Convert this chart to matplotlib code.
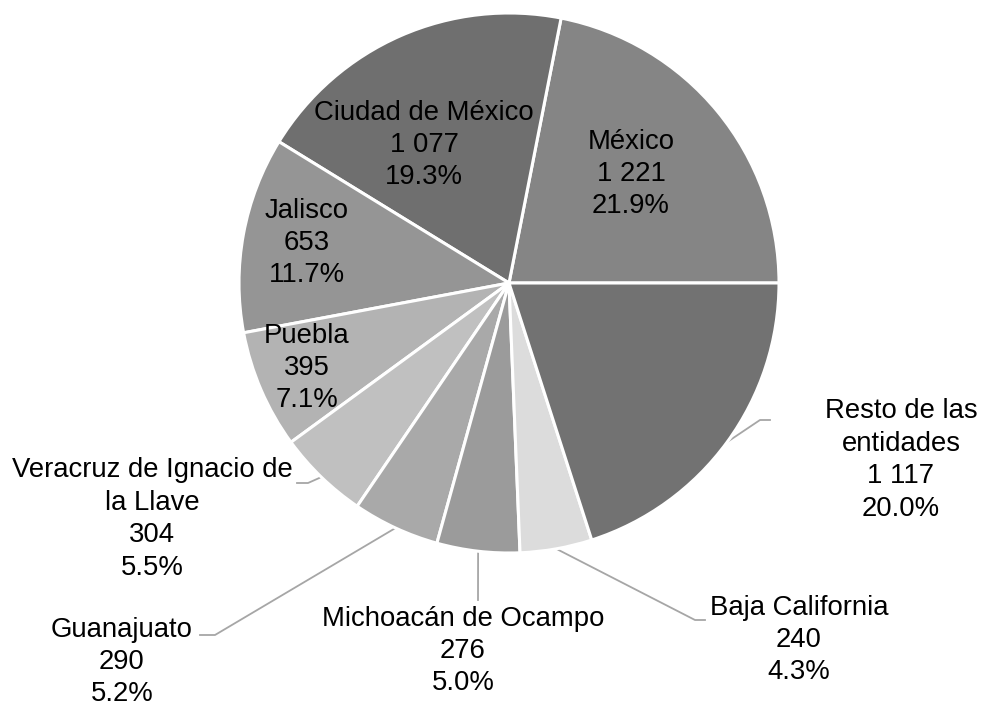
import numpy as np
import matplotlib
matplotlib.use("Agg")
import matplotlib.pyplot as plt

plt.rcParams['font.family'] = ['Liberation Sans', 'DejaVu Sans']

# data
states = ["México", "Ciudad de México", "Jalisco", "Puebla",
          "Veracruz de Ignacio de\nla Llave", "Guanajuato",
          "Michoacán de Ocampo", "Baja California", "Resto de las\nentidades"]
counts = [1221, 1077, 653, 395, 304, 290, 276, 240, 1117]
count_labels = ["1 221", "1 077", "653", "395", "304", "290", "276", "240", "1 117"]
colors = ["#858585", "#6f6f6f", "#959595", "#b3b3b3", "#c0c0c0",
          "#a9a9a9", "#9b9b9b", "#dcdcdc", "#727272"]

W, H = 982, 709
# label centres in pixel coords (x, y from top)
label_pos = [(631, 174), (424, 145), (307, 243), (307, 368), (152, 519),
             (122, 662), (463, 651), (799, 640), (901, 460)]
# leader lines: elbow point and end of short horizontal (None = no leader)
leaders = [None, None, None, None,
           [(308, 483), (297, 483)],
           [(215, 635), (200, 635)],
           [(478, 600)],
           [(695, 620), (705, 620)],
           [(760, 420), (770, 420)]]

cx, cy, r = 509, 283, 270

fig = plt.figure(figsize=(W / 100, H / 100), dpi=100)
ax = fig.add_axes([0, 0, 1, 1])

def Y(y):
    return H - y

wedges, _ = ax.pie(counts, colors=colors, startangle=0, counterclock=True,
                   center=(cx, Y(cy)), radius=r,
                   wedgeprops=dict(edgecolor="white", linewidth=2.2))
ax.set_xlim(0, W)
ax.set_ylim(0, H)
ax.set_aspect('equal')
ax.axis('off')

total = sum(counts)
for i, w in enumerate(wedges):
    pct = 100 * counts[i] / total
    txt = f"{states[i]}\n{count_labels[i]}\n{pct:.1f}%"
    lx, ly = label_pos[i]
    ax.text(lx, Y(ly), txt, ha="center", va="center", fontsize=19.8,
            color="black", linespacing=1.32)
    if leaders[i] is not None:
        ang = np.deg2rad((w.theta1 + w.theta2) / 2)
        sx = cx + r * np.cos(ang)
        sy = Y(cy) + r * np.sin(ang)
        xs = [sx] + [p[0] for p in leaders[i]]
        ys = [sy] + [Y(p[1]) for p in leaders[i]]
        ax.plot(xs, ys, color="#a6a6a6", linewidth=1.3, zorder=0.5)

fig.savefig("out.png", dpi=100, facecolor="white")
